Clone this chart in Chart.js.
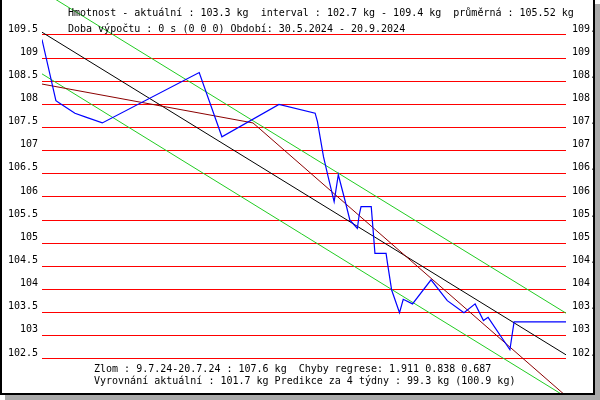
<!DOCTYPE html>
<html>
<head>
<meta charset="utf-8">
<script src="https://cdn.jsdelivr.net/npm/chart.js@4"></script>
<style>
  html, body { margin: 0; padding: 0; background: #fff; }
  canvas { display: block; }
</style>
</head>
<body>
<canvas id="myChart1" width="600" height="400"></canvas>
<script>
// dny od 30.5.2024
const days = [0, 3.0, 3.9, 7.1, 9.6, 13.0, 33.9, 38.8, 51.1, 58.9, 59.4, 60.7, 61.7, 63.0, 63.9,
  65.3, 66.4, 68.0, 68.4, 68.8, 71.0, 71.4, 71.8, 74.2, 74.5, 75.4, 77.1, 77.9, 79.9, 83.9,
  87.4, 91.0, 93.4, 95.2, 96.2, 100.9, 101.8, 113];
const weights = [109.4, 108.08, 108.02, 107.81, 107.72, 107.6, 108.69, 107.3, 108.0, 107.81, 107.63,
  106.87, 106.44, 105.9, 106.48, 105.94, 105.5, 105.32, 105.61, 105.79, 105.79, 105.29, 104.78,
  104.78, 104.57, 103.99, 103.5, 103.79, 103.69, 104.21, 103.76, 103.5, 103.69, 103.33, 103.4,
  102.7, 103.3, 103.3];

// regrese + pásmo
const trendDays = [0, 113];
const trendValues = [109.56, 102.59];
const upperValues = [110.45, 103.49];
const lowerValues = [108.66, 101.68];

// zlom
const breakDays = [0, 45.5, 113];
const breakValues = [108.44, 107.6, 101.7];

const tickValues = [102.5, 103, 103.5, 104, 104.5, 105, 105.5, 106, 106.5, 107, 107.5, 108, 108.5, 109, 109.5];

const headerLines = [
  "Hmotnost - aktuální : 103.3 kg  interval : 102.7 kg - 109.4 kg  průměrná : 105.52 kg",
  "Doba výpočtu : 0 s (0 0 0) Období: 30.5.2024 - 20.9.2024",
];
const footerLines = [
  "Zlom : 9.7.24-20.7.24 : 107.6 kg  Chyby regrese: 1.911 0.838 0.687",
  "Vyrovnání aktuální : 101.7 kg Predikce za 4 týdny : 99.3 kg (100.9 kg)",
];

const FONT = "'DejaVu Sans Mono', 'Liberation Mono', monospace";

const pts = (xs, ys) => xs.map((x, i) => ({ x: x, y: ys[i] }));

const frame = {
  id: "frame",
  beforeDraw(chart) {
    const c = chart.ctx;
    c.save();
    c.fillStyle = "#ffffff";
    c.fillRect(0, 0, chart.width, chart.height);
    c.restore();
  },
  afterDraw(chart) {
    const c = chart.ctx;
    c.save();
    c.fillStyle = "#000";
    c.font = "10px " + FONT;
    c.textBaseline = "middle";
    c.fillText(headerLines[0], 68, 13);
    c.fillText(headerLines[1], 68, 29);
    c.fillText(footerLines[0], 94, 369);
    c.fillText(footerLines[1], 94, 381.5);
    // ramecek se stinem
    c.fillStyle = "#a9a9a9";
    c.fillRect(595, 4, 5, 396);
    c.fillRect(5, 395, 595, 5);
    c.fillStyle = "#000";
    c.fillRect(0, 0, 2, 395);
    c.fillRect(0, 393, 595, 2);
    c.fillRect(593, 0, 2, 395);
    c.restore();
  },
};

const yCommon = {
  type: "linear",
  min: 101.765,
  max: 110.256,
  afterBuildTicks: (axis) => {
    axis.ticks = tickValues.map((v) => ({ value: v }));
  },
  border: { display: false },
};

const tickFont = { family: FONT, size: 10 };

const ctx = document.getElementById("myChart1").getContext("2d");

new Chart(ctx, {
  type: "line",
  data: {
    datasets: [
      {
        label: "hmotnost",
        data: pts(days, weights),
        borderColor: "#0000ff",
        borderWidth: 1.2,
        order: 1,
      },
      {
        label: "zlom",
        data: pts(breakDays, breakValues),
        borderColor: "#8b0000",
        borderWidth: 1,
        order: 2,
      },
      {
        label: "regrese",
        data: pts(trendDays, trendValues),
        borderColor: "#000000",
        borderWidth: 1,
        order: 3,
      },
      {
        label: "horni",
        data: pts(trendDays, upperValues),
        borderColor: "#22cc22",
        borderWidth: 1,
        order: 4,
      },
      {
        label: "dolni",
        data: pts(trendDays, lowerValues),
        borderColor: "#22cc22",
        borderWidth: 1,
        order: 4,
      },
    ],
  },
  options: {
    responsive: false,
    animation: false,
    devicePixelRatio: 1,
    layout: { padding: { top: 0, bottom: 7, left: 0, right: 0 } },
    elements: { point: { radius: 0 }, line: { tension: 0 } },
    scales: {
      x: { type: "linear", min: 0, max: 113, display: false },
      y: {
        ...yCommon,
        position: "left",
        afterFit: (s) => { s.width = 42; s.paddingTop = 0; s.paddingBottom = 0; },
        grid: { color: "#ff0000", lineWidth: 1, drawTicks: false },
        ticks: {
          color: "#000", padding: 4, labelOffset: -6, font: tickFont,
          callback: (v) => String(v),
        },
      },
      y2: {
        ...yCommon,
        position: "right",
        afterFit: (s) => { s.width = 34; s.paddingTop = 0; s.paddingBottom = 0; },
        grid: { display: false, drawTicks: false },
        ticks: {
          color: "#000", padding: 6, labelOffset: -6, font: tickFont,
          callback: (v) => String(v),
        },
      },
    },
    plugins: {
      legend: { display: false },
      tooltip: { enabled: false },
    },
  },
  plugins: [frame],
});
</script>
</body>
</html>
